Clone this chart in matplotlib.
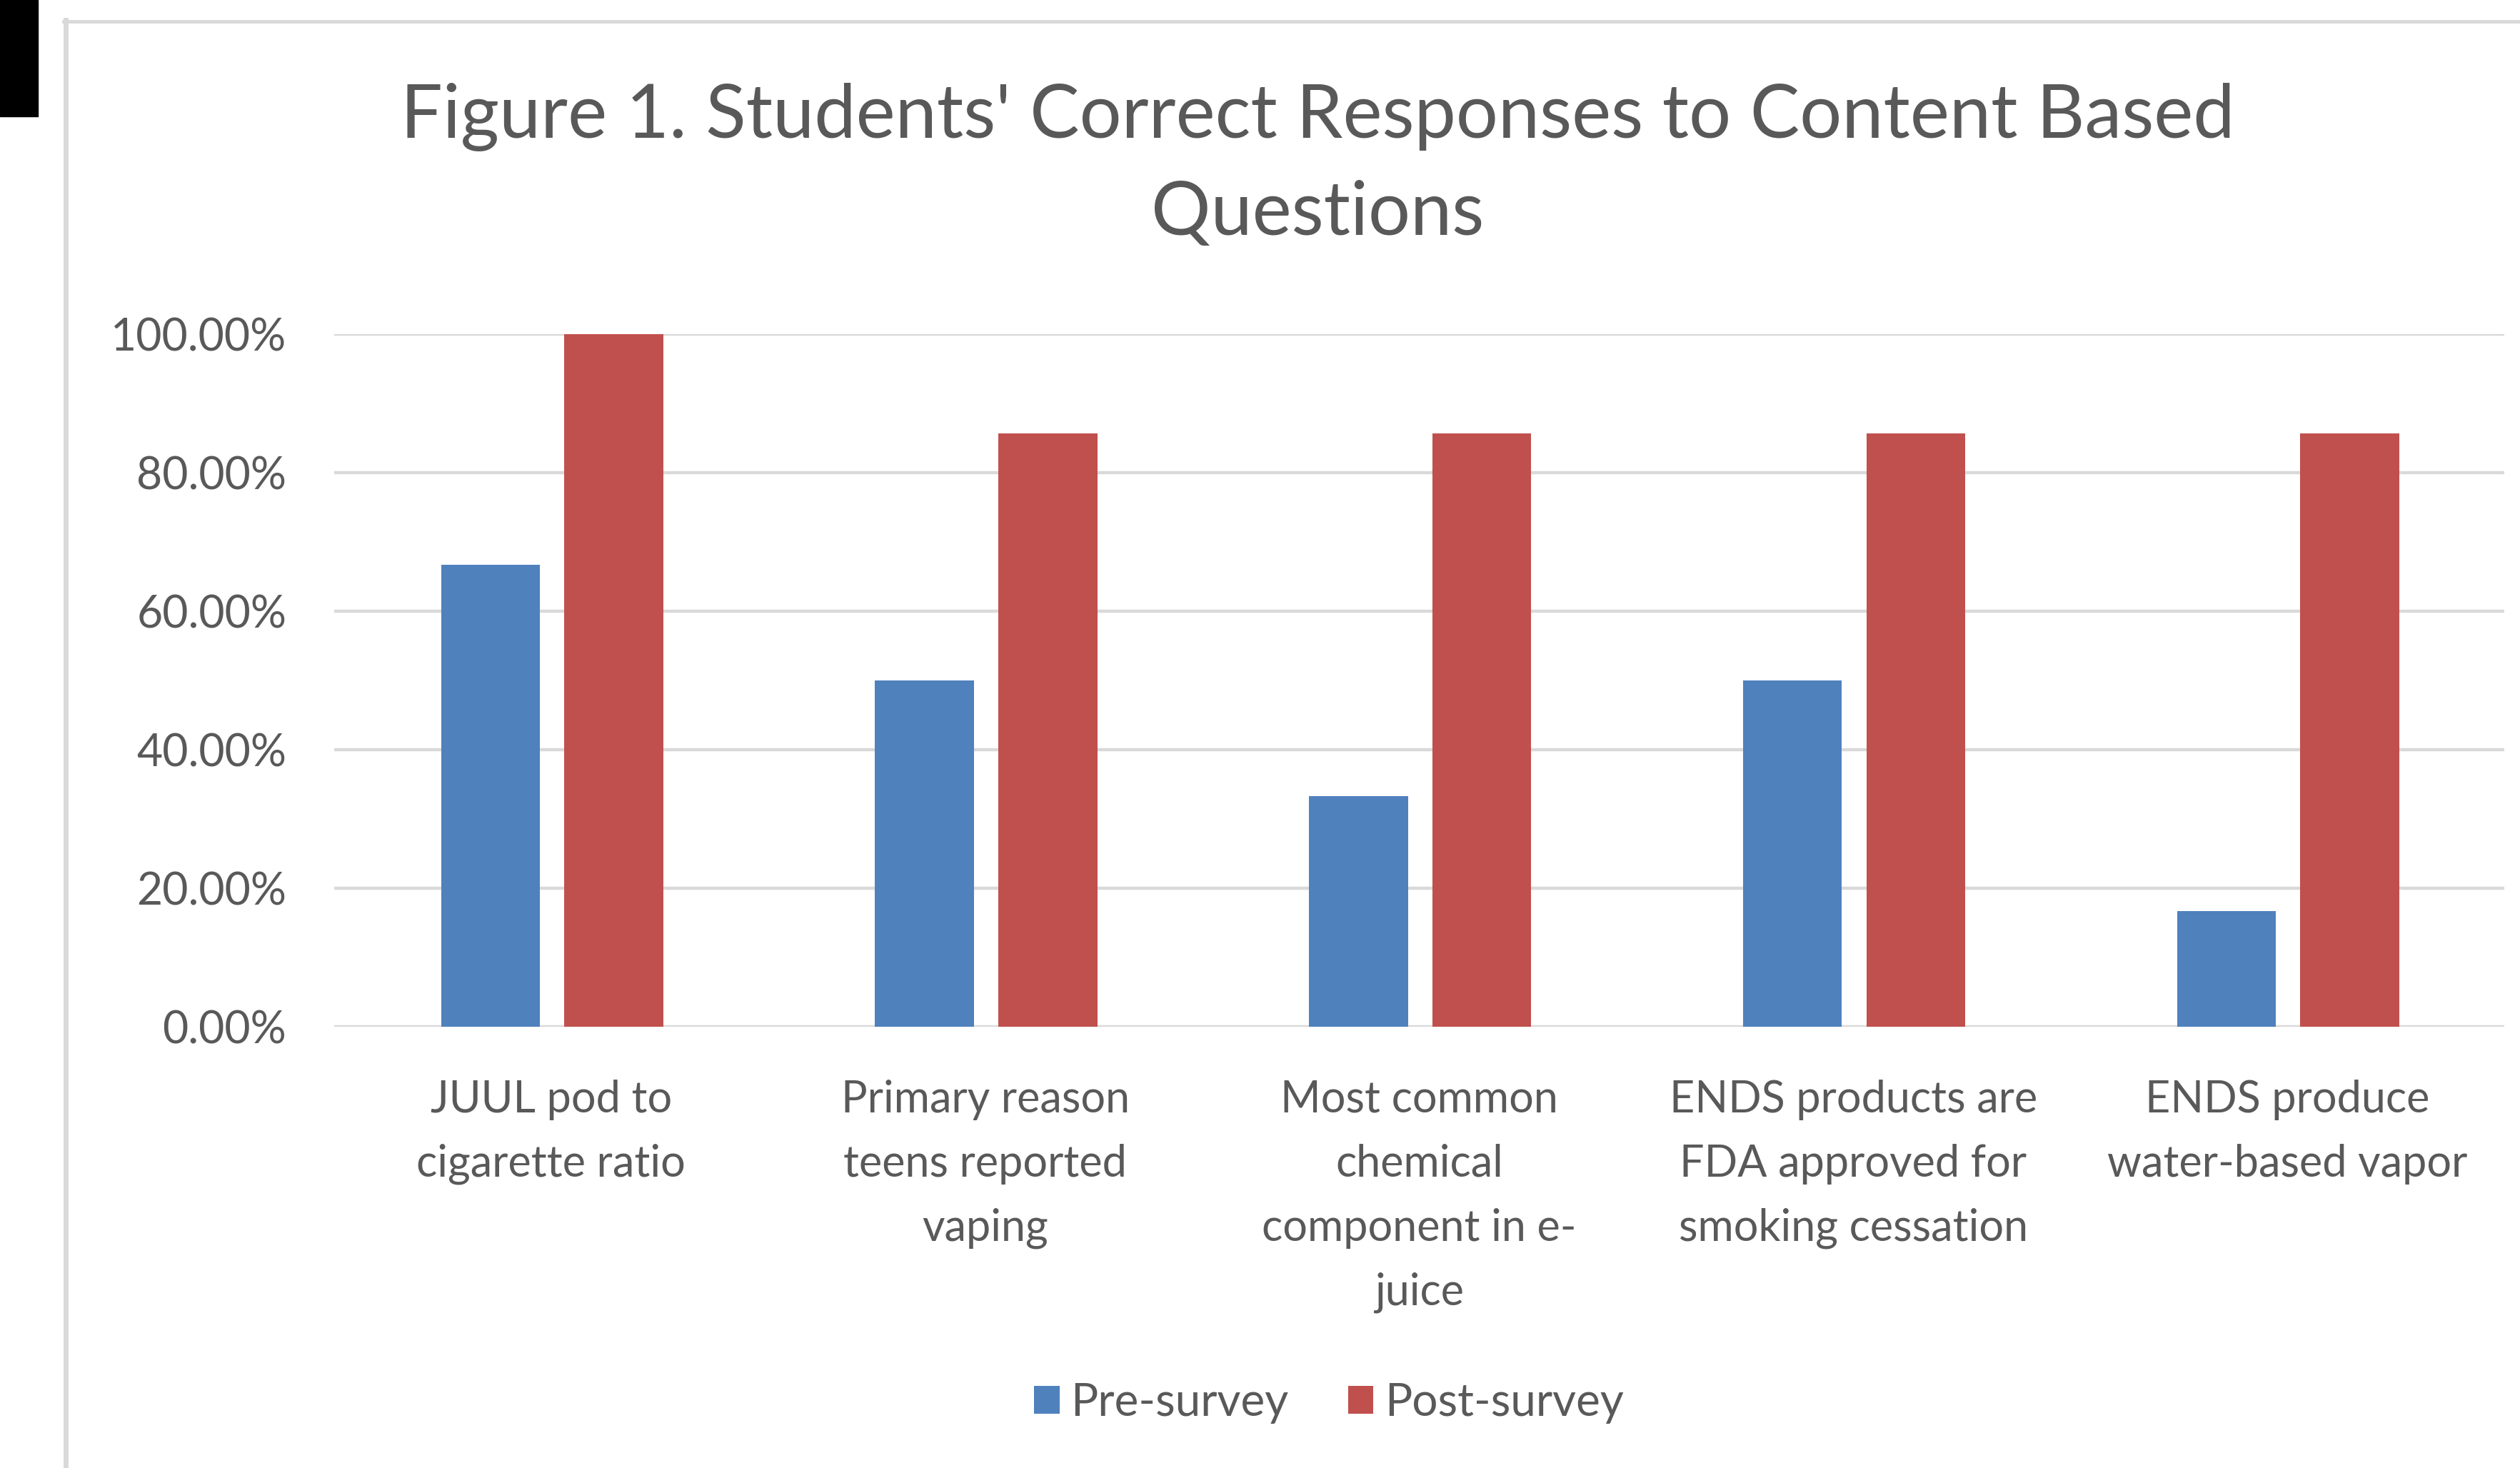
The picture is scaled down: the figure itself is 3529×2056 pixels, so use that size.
import matplotlib
matplotlib.use("Agg")
import matplotlib.pyplot as plt
import numpy as np
from matplotlib.lines import Line2D
from matplotlib.patches import Rectangle

# Datos
categorias = [
    "JUUL pod to\ncigarette ratio",
    "Primary reason\nteens reported\nvaping",
    "Most common\nchemical\ncomponent in e-\njuice",
    "ENDS products are\nFDA approved for\nsmoking cessation",
    "ENDS produce\nwater-based vapor",
]
pre_survey = [0.6667, 0.50, 0.3333, 0.50, 0.1667]
post_survey = [1.00, 0.8571, 0.8571, 0.8571, 0.8571]
y_ticks = [0.0, 0.2, 0.4, 0.6, 0.8, 1.0]
series = ["Pre-survey", "Post-survey"]

plt.rcParams["font.family"] = ["Lato", "DejaVu Sans"]
gris_texto = "#595959"
gris_linea = "#d9d9d9"
azul = "#4f81bd"
rojo = "#c0504d"

W, H = 3529, 2056
fig = plt.figure(figsize=(W / 100, H / 100), dpi=100)
fig.patch.set_facecolor("white")

# Marco del gráfico (sólo arriba e izquierda visibles) y rectángulo negro
fig.add_artist(Line2D([92 / W, 92 / W], [0, 1 - 28 / H], color=gris_linea, lw=5))
fig.add_artist(Line2D([89 / W, 1], [1 - 30 / H, 1 - 30 / H], color=gris_linea, lw=3.5))
fig.add_artist(Rectangle((0, 1 - 163 / H), 53 / W, 163 / H, color="black", transform=fig.transFigure))

ax = fig.add_axes([468 / W, 1 - 1438 / H, (3507 - 468) / W, (1438 - 468) / H])
x = np.arange(len(categorias))
ancho = 0.228
ax.bar(x - 0.14, pre_survey, ancho, color=azul, label=series[0], zorder=3)
ax.bar(x + 0.144, post_survey, ancho, color=rojo, label=series[1], zorder=3)

ax.set_xlim(-0.5, len(categorias) - 0.5)
ax.set_ylim(0, 1)
ax.set_yticks(y_ticks)
ax.set_yticklabels([f"{v * 100:.2f}%" for v in y_ticks], fontsize=45, color=gris_texto)
ax.tick_params(axis="y", length=0, pad=48)
ax.set_xticks(x)
ax.set_xticklabels(categorias, fontsize=44, color=gris_texto, linespacing=1.72, va="top")
ax.tick_params(axis="x", length=0, pad=53)
ax.grid(axis="y", color=gris_linea, lw=3.2, zorder=0)
ax.set_axisbelow(True)
for s in ax.spines.values():
    s.set_visible(False)

fig.text(1845 / W, 1 - 164 / H, "Figure 1. Students' Correct Responses to Content Based",
         ha="center", va="center", fontsize=75, color=gris_texto)
fig.text(1845 / W, 1 - 299 / H, "Questions", ha="center", va="center", fontsize=75, color=gris_texto)

fig.legend(loc="center", bbox_to_anchor=(1861 / W, 1 - 1965 / H), ncol=2, frameon=False,
           fontsize=46, labelcolor=gris_texto, handlelength=0.55, handleheight=0.55,
           handletextpad=0.25, columnspacing=1.3)

fig.savefig("out.png", dpi=100, facecolor="white")
